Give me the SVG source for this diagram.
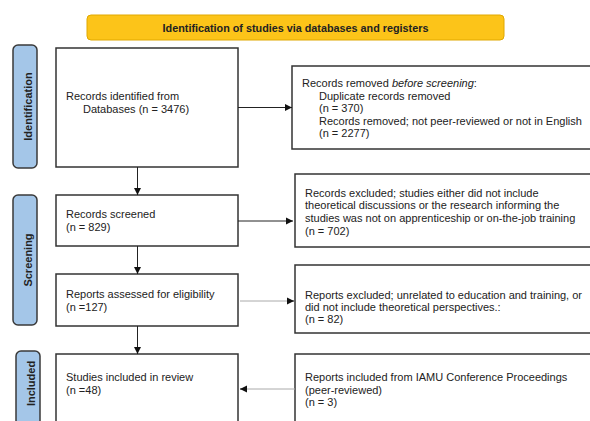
<svg xmlns="http://www.w3.org/2000/svg" width="590" height="421" viewBox="0 0 590 421">
<style>
text{font-family:"Liberation Sans",Arial,sans-serif;font-size:11px;fill:#222}
.box{fill:#fff;stroke:#333;stroke-width:1.5}
.lab{fill:#a4c6e8;stroke:#3a3a3a;stroke-width:1.5}
.lt{font-weight:bold;font-size:11px;text-anchor:middle}
.c{stroke:#222;stroke-width:1;fill:none}
.cg{stroke:#aaa;stroke-width:1;fill:none}
</style>
<defs>
<marker id="ah" markerWidth="8" markerHeight="8" refX="7" refY="4" orient="auto" markerUnits="userSpaceOnUse">
<path d="M0,0.5 L7,4 L0,7.5 Z" fill="#111"/>
</marker>
</defs>
<rect width="590" height="421" fill="#fff"/>
<g id="banner">
<rect x="87" y="15" width="417" height="25" rx="4" fill="#fcc419" stroke="#e0a800" stroke-width="1"/>
<text x="295.5" y="31.5" text-anchor="middle" style="font-weight:bold;font-size:10.8px">Identification of studies via databases and registers</text>
</g>
<g id="lab-identification">
<rect class="lab" x="13" y="45" width="24" height="123" rx="5"/>
<text class="lt" transform="translate(32,106.5) rotate(-90)">Identification</text>
</g>
<g id="lab-screening">
<rect class="lab" x="13" y="195" width="24" height="130" rx="5"/>
<text class="lt" transform="translate(32,260) rotate(-90)">Screening</text>
</g>
<g id="lab-included">
<rect class="lab" x="16" y="351" width="24" height="80" rx="5"/>
<text class="lt" transform="translate(35,383.5) rotate(-90)">Included</text>
</g>
<g id="n-identified">
<rect class="box" x="56" y="48" width="182" height="119"/>
<text x="66" y="100">Records identified from</text>
<text x="83" y="113">Databases (n = 3476)</text>
</g>
<g id="n-removed">
<rect class="box" x="292" y="66" width="305" height="83"/>
<text x="302" y="87">Records removed <tspan font-style="italic">before screening</tspan>:</text>
<text x="319" y="100">Duplicate records removed</text>
<text x="319" y="112">(n = 370)</text>
<text x="319" y="125">Records removed; not peer-reviewed or not in English</text>
<text x="319" y="137">(n = 2277)</text>
</g>
<g id="n-screened">
<rect class="box" x="56" y="195" width="182" height="51"/>
<text x="66" y="218">Records screened</text>
<text x="66" y="231">(n = 829)</text>
</g>
<g id="n-excluded">
<rect class="box" x="295" y="174" width="305" height="73"/>
<text x="305" y="197">Records excluded; studies either did not include</text>
<text x="305" y="209">theoretical discussions or the research informing the</text>
<text x="305" y="222">studies was not on apprenticeship or on-the-job training</text>
<text x="305" y="235">(n = 702)</text>
</g>
<g id="n-assessed">
<rect class="box" x="56" y="274" width="182" height="52"/>
<text x="66" y="298">Reports assessed for eligibility</text>
<text x="66" y="311">(n =127)</text>
</g>
<g id="n-reports-excluded">
<rect class="box" x="295" y="265" width="305" height="68"/>
<text x="305" y="299">Reports excluded; unrelated to education and training, or</text>
<text x="305" y="311">did not include theoretical perspectives.:</text>
<text x="305" y="323"> (n = 82)</text>
</g>
<g id="n-included">
<rect class="box" x="56" y="354" width="182" height="80"/>
<text x="66" y="381">Studies included in review</text>
<text x="66" y="394">(n =48)</text>
</g>
<g id="n-iamu">
<rect class="box" x="295" y="354" width="305" height="80"/>
<text x="305" y="381">Reports included from IAMU Conference Proceedings</text>
<text x="305" y="394">(peer-reviewed)</text>
<text x="305" y="406"> (n = 3)</text>
</g>
<g id="connectors">
<path class="c" d="M238,107.5 H292" marker-end="url(#ah)"/>
<path class="c" d="M137.5,167 V195" marker-end="url(#ah)"/>
<path class="c" d="M238,221 H293" marker-end="url(#ah)"/>
<path class="c" d="M137.5,246 V274" marker-end="url(#ah)"/>
<path class="cg" d="M240,301 H289"/>
<path class="c" d="M288,301 H294" marker-end="url(#ah)"/>
<path class="c" d="M137.5,326 V354" marker-end="url(#ah)"/>
<path class="cg" d="M295,389 H246"/>
<path class="c" d="M247,389 H240" marker-end="url(#ah)"/>
</g>
</svg>
